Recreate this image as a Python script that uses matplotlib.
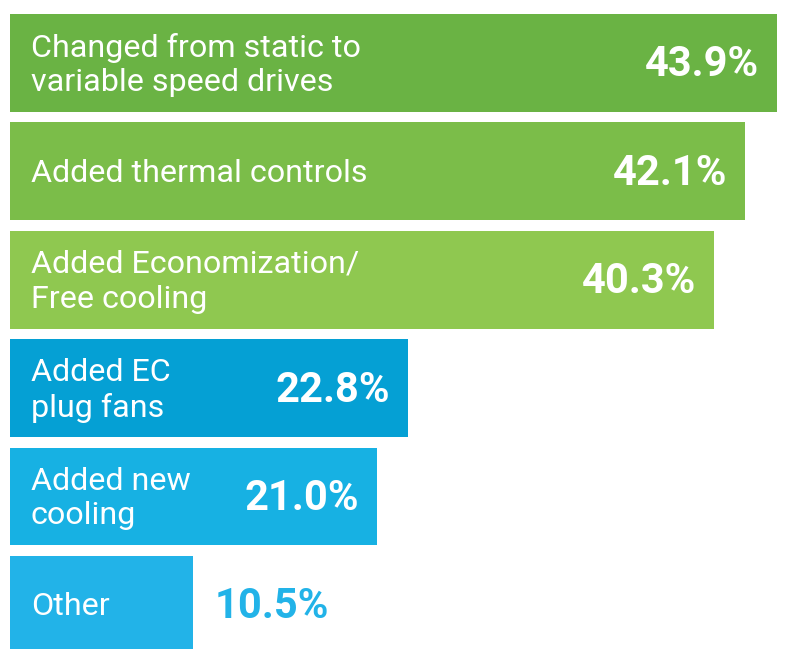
import matplotlib
matplotlib.use("Agg")
import matplotlib.pyplot as plt

# --- data ---
labels = ["Changed from static to\nvariable speed drives", "Added thermal controls",
          "Added Economization/\nFree cooling", "Added EC\nplug fans",
          "Added new\ncooling", "Other"]
values = [43.9, 42.1, 40.3, 22.8, 21.0, 10.5]
colors = ["#6ab344", "#7bbd49", "#8fc850", "#05a0d4", "#17b1e3", "#22b3e8"]

W, H, DPI = 788, 649, 100
PX = 17.47          # pixels per percentage point
PITCH = 108.4       # pixels between bar centres
X0, Y0 = 10, 62.9   # left edge of bars, centre of first bar (px)

fig = plt.figure(figsize=(W / DPI, H / DPI), dpi=DPI)
ax = fig.add_axes([0, 0, 1, 1])
ax.set_xlim(-X0 / PX, (W - X0) / PX)
ax.set_ylim((H - Y0) / PITCH, -Y0 / PITCH)
ax.axis("off")

ys = list(range(len(values)))
ax.barh(ys, values, height=97.7 / PITCH, left=0, color=colors, edgecolor="none")

for y, lab, v, c in zip(ys, labels, values, colors):
    ax.annotate(lab, xy=(0, y), xytext=(21, -2), textcoords="offset pixels",
                ha="left", va="center", color="white", fontsize=23.2,
                family="Roboto", linespacing=1.25)
    inside = v > 15
    ax.annotate(f"{v:.1f}%", xy=(v, y), xytext=(-18 if inside else 21, -2),
                textcoords="offset pixels", ha="right" if inside else "left",
                va="center", color="white" if inside else c, fontsize=30,
                family="Roboto", fontweight="bold")

fig.savefig("out.png", dpi=DPI)
